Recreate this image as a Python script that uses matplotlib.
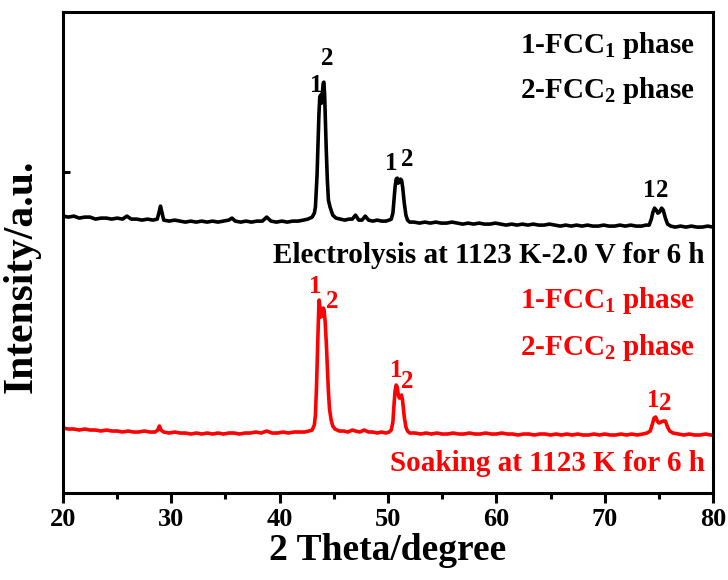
import matplotlib
matplotlib.use("Agg")
import matplotlib.pyplot as plt
from matplotlib.ticker import MultipleLocator, FixedLocator

plt.rcParams["font.family"] = ["Liberation Serif", "DejaVu Serif"]
plt.rcParams["font.weight"] = "bold"
plt.rcParams["axes.labelweight"] = "bold"
plt.rcParams["mathtext.fontset"] = "custom"
plt.rcParams["mathtext.rm"] = "Liberation Serif:bold"
plt.rcParams["mathtext.it"] = "Liberation Serif:bold"
plt.rcParams["mathtext.bf"] = "Liberation Serif:bold"

# Electrolysis pattern (2theta in degrees, intensity in a.u.)
elec_2theta = [
    20.0, 20.5, 21.0, 21.5, 22.0, 22.5, 23.0, 23.5, 24.0, 24.5, 25.0, 25.5, 25.9, 26.3,
    26.8, 27.3, 27.8, 28.3, 28.7, 28.85, 29.0, 29.15, 29.3, 29.8, 30.3, 30.8, 31.3, 31.8,
    32.3, 32.8, 33.3, 33.8, 34.3, 34.8, 35.3, 35.6, 35.9, 36.4, 36.9, 37.4, 37.9, 38.4,
    38.8, 39.2, 39.7, 40.2, 40.7, 41.2, 41.7, 42.2, 42.6, 43.0, 43.2, 43.3, 43.45, 43.55,
    43.62, 43.7, 43.78, 43.86, 43.94, 44.02, 44.08, 44.15, 44.22, 44.3, 44.4, 44.5, 44.65,
    44.9, 45.2, 45.6, 46.0, 46.4, 46.7, 47.0, 47.3, 47.6, 47.9, 48.2, 48.6, 49.0, 49.4,
    49.8, 50.1, 50.3, 50.45, 50.55, 50.65, 50.75, 50.85, 50.95, 51.05, 51.15, 51.25,
    51.35, 51.5, 51.65, 51.8, 52.0, 52.4, 52.9, 53.4, 53.9, 54.4, 54.9, 55.4, 55.9, 56.4,
    56.9, 57.4, 57.9, 58.4, 58.9, 59.4, 59.9, 60.4, 60.9, 61.4, 61.9, 62.4, 62.9, 63.4,
    63.9, 64.4, 64.9, 65.4, 65.9, 66.4, 66.9, 67.4, 67.9, 68.4, 68.9, 69.4, 69.9, 70.4,
    70.9, 71.4, 71.9, 72.4, 72.9, 73.4, 73.8, 74.1, 74.3, 74.45, 74.6, 74.75, 74.9, 75.05,
    75.25, 75.4, 75.6, 75.8, 76.1, 76.5, 77.0, 77.5, 78.0, 78.5, 79.0, 79.5, 80.0,
]
elec_int = [
    39, 38, 39, 37, 38, 38, 36, 37, 37, 36, 37, 36, 39, 36,
    36, 35, 36, 35, 36, 42, 49, 42, 35, 34, 35, 34, 33, 34,
    33, 34, 33, 34, 33, 34, 35, 37, 34, 33, 34, 33, 34, 34,
    38, 34, 33, 34, 33, 34, 34, 35, 36, 38, 42, 48, 80, 115,
    140, 158, 160, 152, 162, 172, 173, 160, 135, 105, 75, 55, 48,
    40, 37, 36, 35, 36, 36, 40, 35, 35, 39, 35, 34, 35, 34,
    34, 35, 36, 42, 55, 68, 76, 77, 72, 74, 76, 75,
    68, 52, 40, 35, 33, 33, 32, 33, 32, 33, 32, 32, 33, 32,
    31, 32, 31, 32, 31, 31, 32, 31, 30, 31, 30, 31, 30, 31,
    30, 30, 31, 30, 29, 30, 29, 30, 29, 30, 29, 29, 30, 29,
    29, 30, 29, 30, 29, 29, 30, 30, 36, 43, 47, 45, 42, 43,
    47, 45, 37, 31, 29, 28, 29, 28, 29, 28, 28, 29, 28,
]
elec_offset = 212

# Soaking pattern (2theta in degrees, intensity in a.u.)
soak_2theta = [
    20.0, 20.5, 21.0, 21.5, 22.0, 22.5, 23.0, 23.5, 24.0, 24.5, 25.0, 25.5, 26.0, 26.5,
    27.0, 27.5, 28.0, 28.5, 28.75, 28.9, 29.05, 29.3, 29.8, 30.3, 30.8, 31.3, 31.8, 32.3,
    32.8, 33.3, 33.8, 34.3, 34.8, 35.3, 35.8, 36.3, 36.8, 37.3, 37.8, 38.3, 38.8, 39.3,
    39.8, 40.3, 40.8, 41.3, 41.8, 42.3, 42.7, 43.0, 43.2, 43.3, 43.4, 43.5, 43.58, 43.64,
    43.72, 43.82, 43.92, 44.02, 44.1, 44.2, 44.3, 44.4, 44.5, 44.6, 44.75, 44.9, 45.1,
    45.5, 45.9, 46.3, 46.7, 47.0, 47.4, 47.8, 48.2, 48.6, 49.0, 49.4, 49.8, 50.1, 50.3,
    50.45, 50.55, 50.65, 50.75, 50.85, 50.95, 51.05, 51.15, 51.25, 51.35, 51.5, 51.65,
    51.8, 52.0, 52.5, 53.0, 53.5, 54.0, 54.5, 55.0, 55.5, 56.0, 56.5, 57.0, 57.5, 58.0,
    58.5, 59.0, 59.5, 60.0, 60.5, 61.0, 61.5, 62.0, 62.5, 63.0, 63.5, 64.0, 64.5, 65.0,
    65.5, 66.0, 66.5, 67.0, 67.5, 68.0, 68.5, 69.0, 69.5, 70.0, 70.5, 71.0, 71.5, 72.0,
    72.5, 73.0, 73.5, 73.9, 74.2, 74.4, 74.55, 74.7, 74.85, 75.0, 75.2, 75.4, 75.6, 75.8,
    76.0, 76.3, 76.8, 77.3, 77.8, 78.3, 78.8, 79.3, 79.8, 80.0,
]
soak_int = [
    39, 38, 38, 37, 38, 37, 37, 36, 37, 36, 36, 35, 36, 35,
    35, 36, 35, 35, 37, 41, 37, 35, 34, 35, 34, 34, 33, 34,
    33, 34, 33, 34, 33, 34, 34, 33, 34, 34, 35, 34, 36, 34,
    34, 35, 34, 35, 35, 35, 36, 37, 42, 52, 80, 120, 150, 167,
    160, 150, 152, 159, 157, 145, 125, 100, 75, 58, 47, 41, 38,
    36, 36, 35, 37, 36, 35, 37, 35, 35, 34, 35, 34, 35, 37,
    45, 62, 76, 82, 80, 72, 69, 71, 72, 66, 50, 40,
    36, 34, 34, 33, 34, 33, 34, 33, 33, 34, 33, 33, 34, 33,
    33, 34, 33, 33, 34, 33, 33, 32, 33, 33, 32, 33, 33, 32,
    33, 32, 33, 32, 33, 32, 32, 33, 32, 33, 32, 32, 33, 32,
    33, 32, 33, 34, 36, 43, 49, 50, 46, 44, 45, 46, 46, 40,
    36, 34, 33, 32, 33, 32, 32, 33, 32, 32,
]

# Phase markers above the reflections: (2theta, height, label)
elec_marks = [(43.35, 382, "1"), (44.37, 409, "2"),
              (50.28, 304, "1"), (51.75, 308, "2"),
              (74.1, 277, "1"), (75.3, 277, "2")]
soak_marks = [(43.26, 181, "1"), (44.83, 166, "2"),
              (50.74, 97, "1"), (51.75, 86, "2"),
              (74.46, 67, "1"), (75.57, 64, "2")]

black = "#000000"
red = "#ff0000"

fig = plt.figure(figsize=(7.28, 5.80), dpi=100)
ax = fig.add_axes([0.0865, 0.15, 0.893, 0.829])

ax.plot(elec_2theta, [v + elec_offset for v in elec_int], color=black, lw=2.6)
ax.plot(soak_2theta, soak_int, color=red, lw=2.6)

for x, y, s in elec_marks:
    ax.text(x, y, s, color=black, fontsize=18, ha="center", va="center")
for x, y, s in soak_marks:
    ax.text(x, y, s, color=red, fontsize=18, ha="center", va="center")

ann = 21
ax.text(78.34, 422, "1-FCC$_{1}$ phase", color=black, fontsize=ann, ha="right", va="center")
ax.text(78.34, 377, "2-FCC$_{2}$ phase", color=black, fontsize=ann, ha="right", va="center")
ax.text(79.26, 212, "Electrolysis at 1123 K-2.0 V for 6 h", color=black, fontsize=ann,
        ha="right", va="center")
ax.text(78.34, 167, "1-FCC$_{1}$ phase", color=red, fontsize=ann, ha="right", va="center")
ax.text(78.34, 120, "2-FCC$_{2}$ phase", color=red, fontsize=ann, ha="right", va="center")
ax.text(79.26, 4, "Soaking at 1123 K for 6 h", color=red, fontsize=ann, ha="right", va="center")

ax.set_xlim(20, 80)
ax.set_ylim(-26, 455)
ax.xaxis.set_major_locator(MultipleLocator(10))
ax.xaxis.set_minor_locator(MultipleLocator(5))
ax.yaxis.set_major_locator(FixedLocator([295]))
ax.set_yticklabels([])
ax.tick_params(axis="x", which="major", direction="out", length=7, width=2.2,
               labelsize=19, pad=4)
ax.tick_params(axis="x", which="minor", direction="out", length=4, width=2.2)
ax.tick_params(axis="y", which="major", direction="in", length=5, width=2.2)
for sp in ax.spines.values():
    sp.set_linewidth(2.2)

ax.set_xlabel("2 Theta/degree", fontsize=27, fontweight="bold", labelpad=1)
ax.set_ylabel("Intensity/a.u.", fontsize=30, fontweight="bold")
ax.yaxis.set_label_coords(-0.035, 0.45)

fig.savefig("out.png", dpi=100)
